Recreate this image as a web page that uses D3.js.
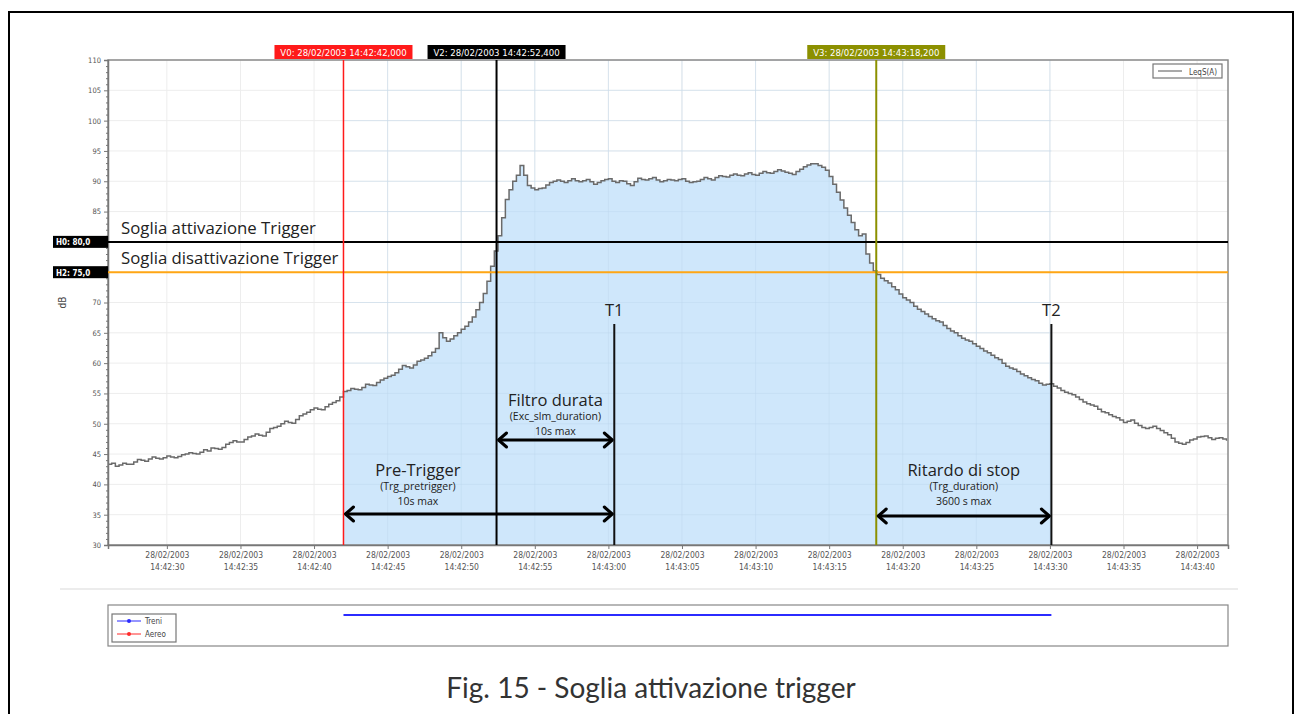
<!DOCTYPE html>
<html>
<head>
<meta charset="utf-8">
<script src="https://cdn.jsdelivr.net/npm/d3@7/dist/d3.min.js"></script>
<style>
  html, body { margin: 0; padding: 0; background: #fff; }
  svg { display: block; }
</style>
</head>
<body>
<svg id="chart" width="1296" height="714"></svg>
<script>
// LeqS(A) samples, one every 0.25 s starting at 28/02/2003 14:42:26.00 (four per row = 1 s)
const sampleStart = new Date(2003, 1, 28, 14, 42, 26, 0);
const sampleStepMs = 250;
const leqValues = [
  43.3, 43.5, 43.0, 43.2,  43.5, 43.3, 43.3, 43.7,  44.1, 44.0, 43.8, 44.2,
  44.5, 44.3, 44.2, 44.4,  44.7, 44.5, 44.4, 44.6,  44.9, 45.0, 45.2, 45.1,
  45.0, 45.3, 45.7, 45.5,  46.0, 45.9, 45.8, 46.1,  46.6, 46.9, 47.2, 47.0,
  47.0, 47.4, 47.8, 48.0,  48.3, 48.1, 48.0, 48.6,  49.2, 49.4, 49.6, 50.0,
  50.4, 50.2, 50.1, 50.7,  51.3, 51.6, 51.9, 52.3,  52.6, 52.4, 52.3, 52.8,
  53.2, 53.5, 53.8, 54.4,  55.3, 55.5, 55.8, 55.7,  55.6, 56.0, 56.5, 56.4,
  56.3, 56.8, 57.2, 57.5,  57.8, 58.0, 58.4, 59.0,  59.6, 59.4, 59.2, 59.7,
  60.3, 60.5, 60.8, 61.2,  61.8, 62.4, 65.0, 64.2,  63.6, 64.0, 64.5, 65.0,
  65.6, 66.1, 66.8, 67.6,  68.8, 70.0, 71.5, 73.5,  76.0, 78.5, 81.0, 84.0,
  87.0, 88.6, 90.0, 91.0,  92.6, 91.0, 89.3, 88.9,  88.6, 88.8, 88.9, 89.4,
  89.8, 90.0, 90.2, 90.0,  89.8, 90.1, 90.4, 90.1,  89.9, 90.1, 90.3, 89.9,
  89.5, 89.8, 90.1, 90.3,  90.4, 90.0, 89.8, 90.1,  90.0, 89.6, 89.3, 89.9,
  90.5, 90.3, 90.2, 90.4,  90.6, 90.2, 89.9, 90.1,  90.3, 90.2, 90.1, 90.3,
  90.4, 90.0, 89.8, 89.9,  90.0, 90.3, 90.6, 90.4,  90.2, 90.6, 90.9, 90.8,
  90.7, 91.0, 91.2, 91.0,  90.9, 91.2, 91.4, 91.1,  91.0, 91.3, 91.6, 91.4,
  91.3, 91.6, 91.9, 91.7,  91.5, 91.3, 91.1, 91.6,  92.0, 92.4, 92.7, 92.9,
  92.9, 92.6, 92.3, 91.8,  90.8, 89.5, 88.2, 86.9,  85.6, 84.4, 83.2, 82.0,
  81.0, 81.3, 78.0, 76.5,  75.2, 74.6, 74.0, 73.6,  73.2, 72.6, 72.1, 71.4,
  70.8, 70.4, 70.0, 69.4,  68.9, 68.5, 68.1, 67.7,  67.3, 67.0, 66.8, 66.2,
  65.7, 65.3, 65.0, 64.5,  64.1, 63.8, 63.6, 63.2,  62.8, 62.4, 62.0, 61.7,
  61.3, 60.9, 60.6, 60.0,  59.5, 59.2, 59.0, 58.6,  58.2, 57.9, 57.6, 57.3,
  57.1, 56.7, 56.4, 56.5,  56.6, 56.2, 55.9, 55.5,  55.2, 55.0, 54.8, 54.4,
  54.0, 53.6, 53.3, 53.1,  52.9, 52.4, 52.0, 51.8,  51.5, 51.2, 51.0, 50.6,
  50.2, 50.4, 50.6, 50.1,  49.7, 49.4, 49.2, 49.4,  49.6, 49.2, 48.9, 48.5,
  48.2, 47.6, 47.0, 46.8,  46.6, 46.9, 47.3, 47.5,  47.8, 47.9, 48.0, 47.7,
  47.4, 47.6, 47.7, 47.5,  47.2
];

// Time window and level range of the main graph
const timeDomain = [new Date(2003, 1, 28, 14, 42, 26, 0), new Date(2003, 1, 28, 14, 43, 42, 100)];
const dbDomain = [30, 110];
const dbTicks = [30, 35, 40, 45, 50, 55, 60, 65, 70, 75, 80, 85, 90, 95, 100, 105, 110];

// Vertical cursors
const cursorNames = ["V0", "V2", "V3"];
const cursorTimes = [
  new Date(2003, 1, 28, 14, 42, 42, 0),
  new Date(2003, 1, 28, 14, 42, 52, 400),
  new Date(2003, 1, 28, 14, 43, 18, 200)
];
const cursorLabels = ["V0: 28/02/2003 14:42:42,000", "V2: 28/02/2003 14:42:52,400", "V3: 28/02/2003 14:43:18,200"];

// Horizontal thresholds
const thresholdNames = ["H0", "H2"];
const thresholdValues = [80, 75];
const thresholdLabels = ["H0: 80,0", "H2: 75,0"];
const thresholdTexts = ["Soglia attivazione Trigger", "Soglia disattivazione Trigger"];

// Trigger end markers
const markerNames = ["T1", "T2"];
const markerTimes = [new Date(2003, 1, 28, 14, 43, 0, 400), new Date(2003, 1, 28, 14, 43, 30, 100)];

// Interval annotations: [from, to]
const spanTitles = ["Filtro durata", "Pre-Trigger", "Ritardo di stop"];
const spanParams = ["(Exc_slm_duration)", "(Trg_pretrigger)", "(Trg_duration)"];
const spanLimits = ["10s max", "10s max", "3600 s max"];
const spanFrom = [cursorTimes[1], cursorTimes[0], cursorTimes[2]];
const spanTo = [markerTimes[0], markerTimes[0], markerTimes[1]];

// Event bar below the graph
const eventNames = ["Treni", "Aereo"];
const treniStart = cursorTimes[0];
const treniEnd = markerTimes[1];

const caption = "Fig. 15 - Soglia attivazione trigger";

// ---- styles ----
const cursorColors = ["#ff1a1a", "#000000", "#8c9000"];
const thresholdColors = ["#000000", "#ffa614"];
const eventColors = ["#2b2bff", "#ff2b2b"];
const fillColor = "#cfe7fb";
const lineColor = "#6a6a6a";
const axisFont = "'DejaVu Sans Condensed', 'DejaVu Sans', sans-serif";
const textFont = "'Open Sans', 'Noto Sans', sans-serif";

const svg = d3.select("#chart");

// outer frame
svg.append("rect").attr("x", 9).attr("y", 12).attr("width", 1284).attr("height", 720)
  .attr("fill", "none").attr("stroke", "#000").attr("stroke-width", 2);

const plot = { left: 108, right: 1228, top: 60, bottom: 545 };
const x = d3.scaleTime().domain(timeDomain).range([plot.left, plot.right]);
const y = d3.scaleLinear().domain(dbDomain).range([plot.bottom, plot.top]);

const data = leqValues.map((v, i) => ({ t: new Date(sampleStart.getTime() + i * sampleStepMs), v }));
const xTicks = x.ticks(d3.timeSecond.every(5));

// grid
const grid = svg.append("g");
grid.selectAll(".gy").data(dbTicks).join("line")
  .attr("x1", plot.left).attr("x2", plot.right)
  .attr("y1", d => y(d)).attr("y2", d => y(d))
  .attr("stroke", "#ededed").attr("stroke-width", 1);
grid.selectAll(".gx").data(xTicks).join("line")
  .attr("x1", d => x(d)).attr("x2", d => x(d))
  .attr("y1", plot.top).attr("y2", plot.bottom)
  .attr("stroke", "#ededed").attr("stroke-width", 1);

// filled region between V0 and T2 under the curve
svg.append("clipPath").attr("id", "fillClip").append("rect")
  .attr("x", x(cursorTimes[0])).attr("y", plot.top)
  .attr("width", x(markerTimes[1]) - x(cursorTimes[0])).attr("height", plot.bottom - plot.top);
const area = d3.area().curve(d3.curveStepAfter)
  .x(d => x(d.t)).y0(y(dbDomain[0])).y1(d => y(d.v));
svg.append("path").datum(data).attr("d", area)
  .attr("fill", fillColor).attr("clip-path", "url(#fillClip)");
// grid visible through the fill
svg.append("g").attr("clip-path", "url(#fillClip)").selectAll("line").data(xTicks).join("line")
  .attr("x1", d => x(d)).attr("x2", d => x(d))
  .attr("y1", plot.top).attr("y2", plot.bottom)
  .attr("stroke", "#bcd8ee").attr("stroke-opacity", 0.45);
svg.append("g").attr("clip-path", "url(#fillClip)").selectAll("line").data(dbTicks).join("line")
  .attr("x1", plot.left).attr("x2", plot.right)
  .attr("y1", d => y(d)).attr("y2", d => y(d))
  .attr("stroke", "#bcd8ee").attr("stroke-opacity", 0.45);

// LeqS(A) line
svg.append("clipPath").attr("id", "plotClip").append("rect")
  .attr("x", plot.left).attr("y", plot.top)
  .attr("width", plot.right - plot.left).attr("height", plot.bottom - plot.top);
const line = d3.line().curve(d3.curveStepAfter).x(d => x(d.t)).y(d => y(d.v));
svg.append("path").datum(data).attr("d", line).attr("clip-path", "url(#plotClip)")
  .attr("fill", "none").attr("stroke", lineColor).attr("stroke-width", 1.5);

// plot frame
svg.append("rect").attr("x", plot.left).attr("y", plot.top)
  .attr("width", plot.right - plot.left).attr("height", plot.bottom - plot.top)
  .attr("fill", "none").attr("stroke", "#8a8a8a").attr("stroke-width", 1.5);

// y axis
const yAxis = d3.axisLeft(y).tickValues(dbTicks).tickSize(4).tickPadding(3).tickFormat(d3.format("d"));
const gy = svg.append("g").attr("transform", `translate(${plot.left},0)`).call(yAxis);
gy.select(".domain").attr("stroke", "#777").attr("stroke-width", 1.5);
gy.selectAll(".tick line").attr("stroke", "#777");
gy.selectAll(".tick text").attr("font-family", axisFont).attr("font-size", 7.5).attr("fill", "#555");
const minorDb = d3.range(dbDomain[0], dbDomain[1] + 1).filter(d => d % 5 !== 0);
svg.append("g").attr("transform", `translate(${plot.left},0)`).call(
  d3.axisLeft(y).tickValues(minorDb).tickSize(2).tickFormat(""))
  .call(g => g.select(".domain").remove())
  .selectAll(".tick line").attr("stroke", "#777");

svg.append("text").attr("transform", `translate(66,${(plot.top + plot.bottom) / 2}) rotate(-90)`)
  .attr("text-anchor", "middle").attr("font-family", axisFont).attr("font-size", 10).attr("fill", "#444")
  .text("dB");

// x axis with two-line labels
const xAxis = d3.axisBottom(x).tickValues(xTicks).tickSize(4).tickFormat("");
const gx = svg.append("g").attr("transform", `translate(0,${plot.bottom})`).call(xAxis);
gx.select(".domain").attr("stroke", "#777").attr("stroke-width", 1.5);
gx.selectAll(".tick line").attr("stroke", "#777");
const fmtDate = d3.timeFormat("%d/%m/%Y");
const fmtTime = d3.timeFormat("%H:%M:%S");
gx.selectAll(".tick").each(function (d) {
  const t = d3.select(this).append("text").attr("fill", "#555")
    .attr("font-family", axisFont).attr("font-size", 8.5).attr("text-anchor", "middle");
  t.append("tspan").attr("x", 0).attr("y", 13).text(fmtDate(d));
  t.append("tspan").attr("x", 0).attr("y", 25).text(fmtTime(d));
});

// legend in the top-right corner
const lg = svg.append("g").attr("transform", `translate(${plot.right - 75},64)`);
lg.append("rect").attr("width", 69).attr("height", 14).attr("fill", "#fff")
  .attr("stroke", "#777").attr("stroke-width", 1.2);
lg.append("line").attr("x1", 5).attr("x2", 29).attr("y1", 7).attr("y2", 7).attr("stroke", "#555");
lg.append("text").attr("x", 64).attr("y", 10.5).attr("text-anchor", "end")
  .attr("font-family", axisFont).attr("font-size", 8).attr("fill", "#444").text("LeqS(A)");

// threshold lines
thresholdValues.forEach((v, i) => {
  svg.append("line").attr("x1", plot.left).attr("x2", plot.right)
    .attr("y1", y(v)).attr("y2", y(v))
    .attr("stroke", thresholdColors[i]).attr("stroke-width", 2);
  const tag = svg.append("g").attr("transform", `translate(${plot.left},${y(v)})`);
  tag.append("rect").attr("x", -55).attr("y", -6).attr("width", 55).attr("height", 12).attr("fill", "#000");
  tag.append("text").attr("x", -52).attr("y", 3.5).attr("font-family", axisFont)
    .attr("font-size", 8).attr("font-weight", "bold").attr("fill", "#fff").text(thresholdLabels[i]);
  svg.append("text").attr("x", 121).attr("y", y(v) - 8)
    .attr("font-family", textFont).attr("font-size", 16.8).attr("fill", "#222").text(thresholdTexts[i]);
});

// vertical cursors with labels
cursorTimes.forEach((t, i) => {
  const cx = x(t);
  svg.append("line").attr("x1", cx).attr("x2", cx).attr("y1", plot.top).attr("y2", plot.bottom)
    .attr("stroke", cursorColors[i]).attr("stroke-width", i === 0 ? 1.5 : 2);
  const w = 138;
  svg.append("rect").attr("x", cx - w / 2).attr("y", 45).attr("width", w).attr("height", 14)
    .attr("fill", cursorColors[i]);
  svg.append("text").attr("x", cx).attr("y", 55.5).attr("text-anchor", "middle")
    .attr("font-family", axisFont).attr("font-size", 9.5).attr("fill", "#fff").text(cursorLabels[i]);
});

// T1 / T2 markers
markerTimes.forEach((t, i) => {
  const mx = x(t);
  svg.append("line").attr("x1", mx).attr("x2", mx).attr("y1", 324).attr("y2", plot.bottom)
    .attr("stroke", "#111").attr("stroke-width", 2);
  svg.append("text").attr("x", mx).attr("y", 316).attr("text-anchor", "middle")
    .attr("font-family", textFont).attr("font-size", 16.5).attr("fill", "#222").text(markerNames[i]);
});

// double-headed arrows with captions
const spanArrowY = [440, 514, 516];
const spanTitleY = [406, 476, 476];
function arrowHead(g, px, py, dir) {
  g.append("path")
    .attr("d", `M${px + dir * 8},${py - 7} L${px},${py} L${px + dir * 8},${py + 7}`)
    .attr("fill", "none").attr("stroke", "#000").attr("stroke-width", 3)
    .attr("stroke-linecap", "round").attr("stroke-linejoin", "round");
}
spanTitles.forEach((title, i) => {
  const x0 = x(spanFrom[i]), x1 = x(spanTo[i]);
  const cx = i === 1 ? (x0 + x1) / 2 - 61 : (x0 + x1) / 2;
  const g = svg.append("g");
  g.append("line").attr("x1", x0 + 2).attr("x2", x1 - 2).attr("y1", spanArrowY[i]).attr("y2", spanArrowY[i])
    .attr("stroke", "#000").attr("stroke-width", 3);
  arrowHead(g, x0 + 2, spanArrowY[i], 1);
  arrowHead(g, x1 - 2, spanArrowY[i], -1);
  g.append("text").attr("x", cx).attr("y", spanTitleY[i]).attr("text-anchor", "middle")
    .attr("font-family", textFont).attr("font-size", 16.5).attr("fill", "#222").text(title);
  g.append("text").attr("x", cx).attr("y", spanTitleY[i] + 14).attr("text-anchor", "middle")
    .attr("font-family", textFont).attr("font-size", 10.5).attr("fill", "#222").text(spanParams[i]);
  g.append("text").attr("x", cx).attr("y", spanTitleY[i] + 29).attr("text-anchor", "middle")
    .attr("font-family", textFont).attr("font-size", 10.5).attr("fill", "#222").text(spanLimits[i]);
});

// separator
svg.append("line").attr("x1", 60).attr("x2", 1238).attr("y1", 589).attr("y2", 589)
  .attr("stroke", "#e6e6e6").attr("stroke-width", 1.5);

// event panel
const ev = { top: 605, bottom: 646 };
svg.append("rect").attr("x", plot.left).attr("y", ev.top)
  .attr("width", plot.right - plot.left).attr("height", ev.bottom - ev.top)
  .attr("fill", "#fff").attr("stroke", "#888").attr("stroke-width", 1.2);
svg.append("line").attr("x1", x(treniStart)).attr("x2", x(treniEnd)).attr("y1", 615).attr("y2", 615)
  .attr("stroke", eventColors[0]).attr("stroke-width", 2);
const el = svg.append("g").attr("transform", "translate(112,614)");
el.append("rect").attr("width", 64).attr("height", 28).attr("fill", "#fff")
  .attr("stroke", "#777").attr("stroke-width", 1.2);
eventNames.forEach((n, i) => {
  const yy = 7 + i * 13;
  el.append("line").attr("x1", 5).attr("x2", 29).attr("y1", yy).attr("y2", yy)
    .attr("stroke", eventColors[i]).attr("stroke-width", 1);
  el.append("circle").attr("cx", 17).attr("cy", yy).attr("r", 2).attr("fill", eventColors[i]);
  el.append("text").attr("x", 33).attr("y", yy + 3).attr("font-family", axisFont)
    .attr("font-size", 8).attr("fill", "#444").text(n);
});

// figure caption
svg.append("text").attr("x", 651).attr("y", 698).attr("text-anchor", "middle")
  .attr("font-family", "Lato, 'Open Sans', sans-serif").attr("font-size", 28).attr("fill", "#333")
  .text(caption);
</script>
</body>
</html>
